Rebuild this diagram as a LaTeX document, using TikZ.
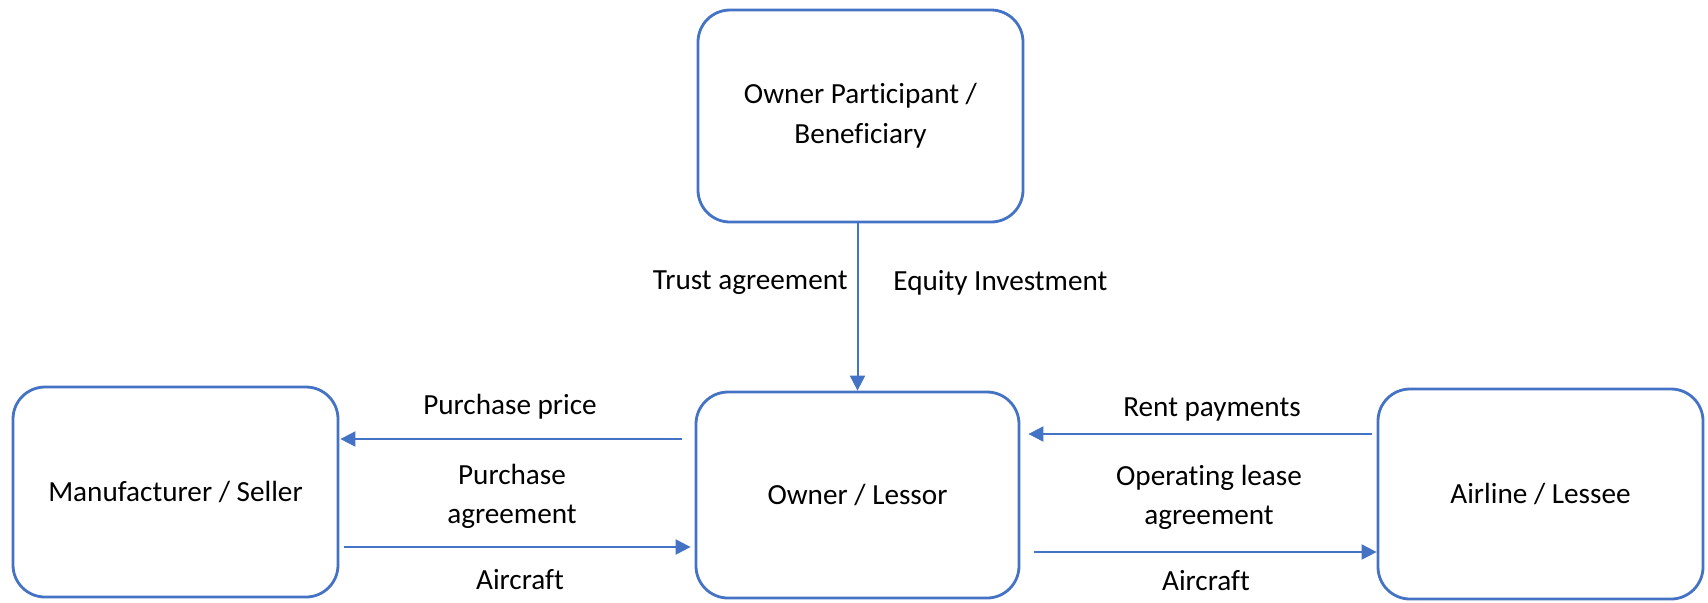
\documentclass[tikz,border=0pt]{standalone}
\usepackage{fontspec}
\setmainfont{Carlito}[Ligatures=NoCommon]
\usetikzlibrary{arrows.meta,calc}
\definecolor{officeblue}{HTML}{4472C4}
\begin{document}
\begin{tikzpicture}[x=0.5pt,y=-0.5pt,
  party/.style={draw=officeblue,line width=1.4pt,rounded corners=16pt,fill=white,
    align=center,inner sep=0pt,font=\fontsize{14.6}{20}\selectfont},
  flow/.style={draw=officeblue,line width=1pt,-{Triangle[length=7.5pt,width=7.5pt]}},
  lbl/.style={align=center,inner sep=0pt,font=\fontsize{14.6}{19.5}\selectfont}]
\useasboundingbox (0,0) rectangle (1708,602);
% parties
\node[party,minimum width=162.5pt,minimum height=106pt] (trustee) at (860.5,116)
  {Owner Participant /\\Beneficiary};
\node[party,minimum width=162.5pt,minimum height=105pt] (maker) at (175.5,492)
  {Manufacturer / Seller};
\node[party,minimum width=161.5pt,minimum height=103pt] (owner) at (857.5,495)
  {Owner / Lessor};
\node[party,minimum width=162.5pt,minimum height=105pt] (airline) at (1540.5,494)
  {Airline / Lessee};
% flows
\draw[flow] (trustee.south -| owner.north) -- (owner.north);
\draw[flow] ($(owner.west)+(-13,-56)$) -- ($(maker.east)+(1,-53)$);
\draw[flow] ($(maker.east)+(5,55)$) -- ($(owner.west)+(-4,52)$);
\draw[flow] ($(airline.west)+(-5,-60)$) -- ($(owner.east)+(8,-61)$);
\draw[flow] ($(owner.east)+(14,57)$) -- ($(airline.west)+(0,58)$);
% labels
\node[lbl,anchor=east] (ltrust) at (848,283) {Trust agreement};
\node[lbl,anchor=west] (lequity) at (893,283) {Equity Investment};
\node[lbl] (lprice) at (510,407) {Purchase price};
\node[lbl] (lpagree) at (512,496) {Purchase\\agreement};
\node[lbl] (lair1) at (520,580) {Aircraft};
\node[lbl] (lrent) at (1212,409) {Rent payments};
\node[lbl] (llease) at (1209,497) {Operating lease\\agreement};
\node[lbl] (lair2) at (1206,581) {Aircraft};
\end{tikzpicture}
\end{document}
